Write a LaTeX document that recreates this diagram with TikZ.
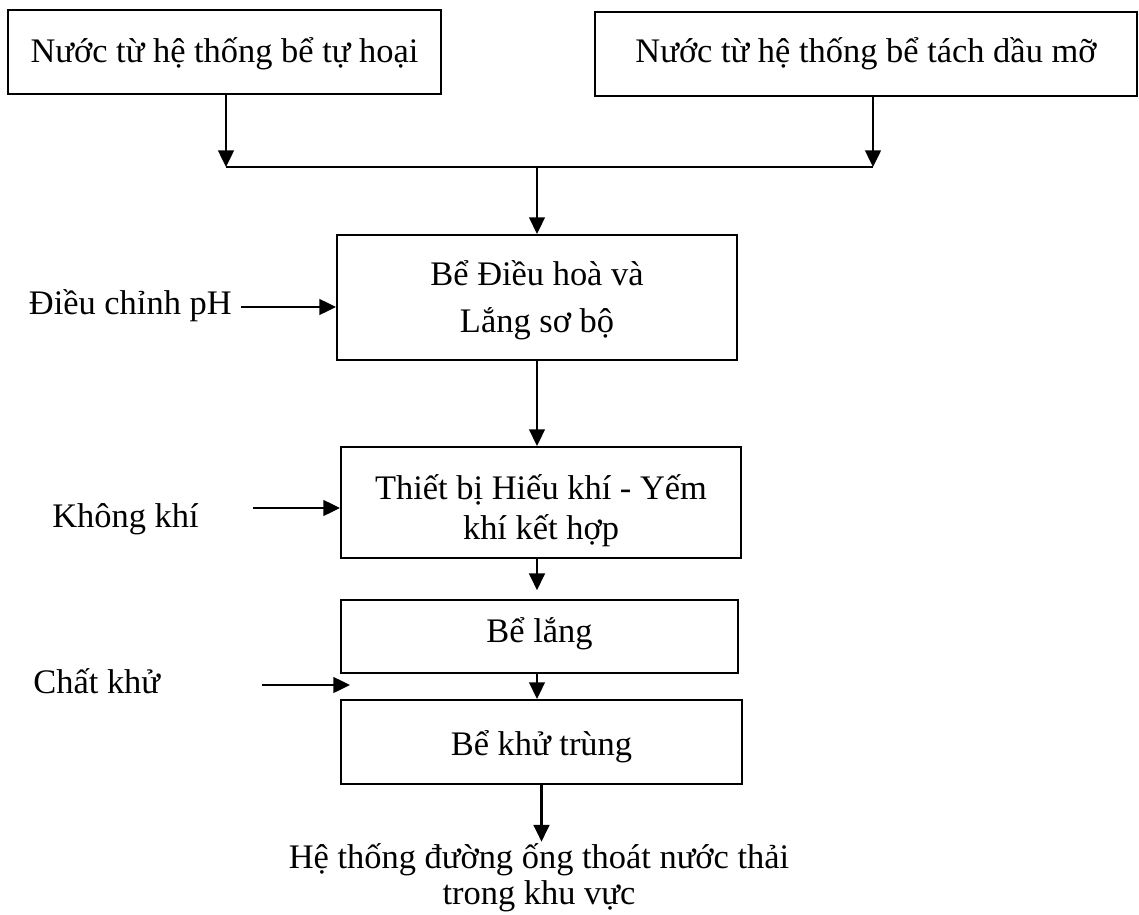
\documentclass[tikz,border=0pt]{standalone}
\usepackage{fontspec}
\setmainfont{Liberation Serif}
\usetikzlibrary{arrows.meta}

% two centred lines whose baseline is the first line's
\newcommand\twolines[2]{\vtop{\halign{\hfil##\hfil\cr #1\cr #2\cr}}}

\begin{document}
\begin{tikzpicture}[x=0.02cm,y=-0.02cm,
  txt/.style={font=\fontsize{19.6}{23.5}\selectfont},
  box/.style={draw, line width=1.2pt, txt, inner sep=0pt},
  arr/.style={line width=1.2pt, -{Triangle[length=9.5pt,width=9pt]}},
  ln/.style={line width=1.2pt}]
\useasboundingbox (0,0) rectangle (1139,915);

% sources
\node[box, minimum width=8.66cm, minimum height=1.68cm,
      text height=12.5pt, text depth=0pt] (b1) at (224.5,52)
  {Nước từ hệ thống bể tự hoại};
\node[box, minimum width=10.84cm, minimum height=1.68cm,
      text height=10.2pt, text depth=0pt] (b2) at (866,54)
  {Nước từ hệ thống bể tách dầu mỡ};

% treatment chain
\node[box, minimum width=8.0cm, minimum height=2.5cm,
      font=\fontsize{19.6}{27.3}\selectfont,
      text height=0pt, text depth=14.2pt] (b3) at (537,297.5)
  {\twolines{Bể Điều hoà và}{Lắng sơ bộ}};
\node[box, minimum width=8.0cm, minimum height=2.22cm,
      font=\fontsize{19.6}{22.2}\selectfont,
      text height=0pt, text depth=2.85pt] (b4) at (541,502.5)
  {\twolines{Thiết bị Hiếu khí - Yếm}{khí kết hợp}};
\node[box, minimum width=7.94cm, minimum height=1.46cm,
      text height=6.3pt, text depth=0pt] (b5) at (539.5,636.5)
  {Bể lắng};
\node[box, minimum width=8.02cm, minimum height=1.68cm,
      text height=14.8pt, text depth=0pt] (b6) at (541.5,742)
  {Bể khử trùng};

% outlet
\node[txt, inner sep=0pt, anchor=base, text height=14.8pt,
      font=\fontsize{19.6}{20.5}\selectfont] (out) at (539,868)
  {\twolines{Hệ thống đường ống thoát nước thải}{trong khu vực}};

% side inputs
\node[txt, inner sep=0pt, anchor=base east] (ph) at (232,315) {Điều chỉnh pH};
\node[txt, inner sep=0pt, anchor=base west] (kk) at (52,527) {Không khí};
\node[txt, inner sep=0pt, anchor=base west] (ck) at (33,693) {Chất khử};

% junction of the two inflows
\coordinate (j1) at (226,167);
\coordinate (j2) at (873,167);
\coordinate (jm) at (537,167);

\draw[arr] (b1.south -| j1) -- (j1);
\draw[arr] (b2.south -| j2) -- (j2);
\draw[ln] (j1) -- (j2);
\draw[arr] (jm) -- (jm |- b3.north);

\draw[arr] (b3.south) -- (b3.south |- b4.north);
\draw[arr, shorten >=5pt] (b3.south |- b4.south) -- (b3.south |- b5.north);
\draw[arr] (b3.south |- b5.south) -- (b3.south |- b6.north);
\draw[arr] (b6.south) -- (b6.south |- out.north);

% dosing arrows
\coordinate (phs) at (241,307);
\coordinate (kks) at (253,508);
\coordinate (cks) at (262,685);
\coordinate (cke) at (350,685);
\draw[arr] (phs) -- (phs -| b3.west);
\draw[arr] (kks) -- (kks -| b4.west);
\draw[arr] (cks) -- (cke);
\end{tikzpicture}
\end{document}
